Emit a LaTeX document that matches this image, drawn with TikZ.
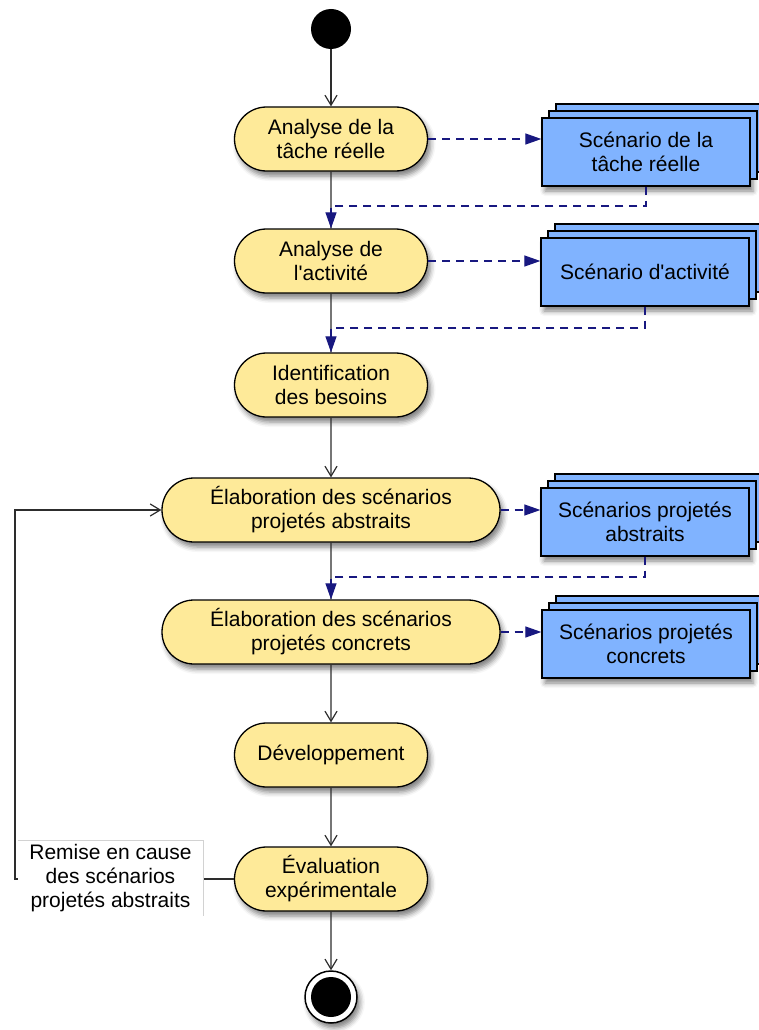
\documentclass[tikz,border=0pt]{standalone}
\usepackage{fontspec}
\setmainfont{Liberation Sans}[Ligatures=TeXOff]
\usetikzlibrary{arrows.meta,shapes.misc,shadows,shadows.blur}

\definecolor{actfill}{RGB}{254,234,153}
\definecolor{docfill}{RGB}{128,179,255}
\definecolor{objblue}{RGB}{24,24,128}
\definecolor{edgegray}{RGB}{45,45,45}

\tikzset{
  txt/.style={font=\fontsize{21}{24}\selectfont, align=center},
  softshadow/.style={blur shadow={shadow xshift=3pt, shadow yshift=-5pt,
      shadow blur radius=5pt, shadow opacity=50}},
  activity/.style={txt, rounded rectangle, draw=black, line width=1.3pt,
      fill=actfill, minimum height=64pt, inner sep=0pt, softshadow},
  narrow/.style={minimum width=193pt},
  wide/.style={minimum width=338pt},
  docstack/.style={txt, rectangle, draw=black, line width=1.3pt, fill=docfill,
      minimum width=208pt, minimum height=68pt, inner sep=0pt, softshadow,
      double copy shadow={shadow xshift=7pt, shadow yshift=7pt}},
  plainflow/.style={draw=edgegray, line width=1.2pt},
  flow/.style={plainflow, -{Straight Barb[length=10pt,width=12pt,line width=1.2pt]}},
  objflow/.style={draw=objblue, line width=1.2pt, dash pattern=on 8pt off 6pt,
      -{Triangle[length=16pt,width=11pt,fill=objblue]}},
}

\begin{document}
\begin{tikzpicture}[x=1pt, y=-1pt]
  \useasboundingbox (0,0) rectangle (759,1030);

  % start and final states
  \node[circle, fill=black, minimum size=40pt, inner sep=0pt] (start) at (331,29) {};

  % activities
  \node[activity, narrow] (a1) at (331,139) {Analyse de la\\tâche réelle};
  \node[activity, narrow] (a2) at (331,261) {Analyse de\\l'activité};
  \node[activity, narrow] (a3) at (331,385) {Identification\\des besoins};
  \node[activity, wide]   (a4) at (331,510) {Élaboration des scénarios\\projetés abstraits};
  \node[activity, wide]   (a5) at (331,632) {Élaboration des scénarios\\projetés concrets};
  \node[activity, narrow] (a6) at (331,755) {Développement};
  \node[activity, narrow] (a7) at (331,879) {Évaluation\\expérimentale};

  \node[circle, draw=black, line width=1.5pt, fill=white, minimum size=52pt,
        inner sep=0pt, softshadow] (end) at (331,997) {};
  \node[circle, fill=black, minimum size=40pt, inner sep=0pt] (endcore) at (end) {};

  % produced scenarios
  \node[docstack] (d1) at (646,152) {Scénario de la\\tâche réelle};
  \node[docstack] (d2) at (645,272) {Scénario d'activité};
  \node[docstack] (d3) at (645,522) {Scénarios projetés\\abstraits};
  \node[docstack] (d4) at (646,644) {Scénarios projetés\\concrets};

  % junctions of the object flows
  \coordinate (j1) at (331,206);
  \coordinate (j2) at (331,328);
  \coordinate (j3) at (331,577);

  % control flow
  \draw[flow] (start) -- (a1);
  \draw[plainflow] (a1) -- (a2);
  \draw[plainflow] (a2) -- (a3);
  \draw[flow] (a3) -- (a4);
  \draw[plainflow] (a4) -- (a5);
  \draw[flow] (a5) -- (a6);
  \draw[flow] (a6) -- (a7);
  \draw[flow] (a7) -- (end);

  % object flows
  \draw[objflow] (a1.east) -- (a1.east -| d1.west);
  \draw[objflow] (d1.south) |- (j1) -- (a2.north);
  \draw[objflow] (a2.east) -- (a2.east -| d2.west);
  \draw[objflow] (d2.south) |- (j2) -- (a3.north);
  \draw[objflow] (a4.east) -- (a4.east -| d3.west);
  \draw[objflow] (d3.south) |- (j3) -- (a5.north);
  \draw[objflow] (a5.east) -- (a5.east -| d4.west);

  % feedback loop
  \coordinate (k1) at (15,879);
  \coordinate (k2) at (15,510);
  \draw[flow] (a7.west) -- (k1) -- (k2) -- (a4.west);
  \node[txt, fill=white, minimum width=185pt, minimum height=76pt, inner sep=0pt]
       (lbl) at (110.5,878) {Remise en cause\\des scénarios\\projetés abstraits};
  \draw[gray!35, line width=0.6pt] (lbl.north west) -- (lbl.north east) -- (lbl.south east);
\end{tikzpicture}
\end{document}
